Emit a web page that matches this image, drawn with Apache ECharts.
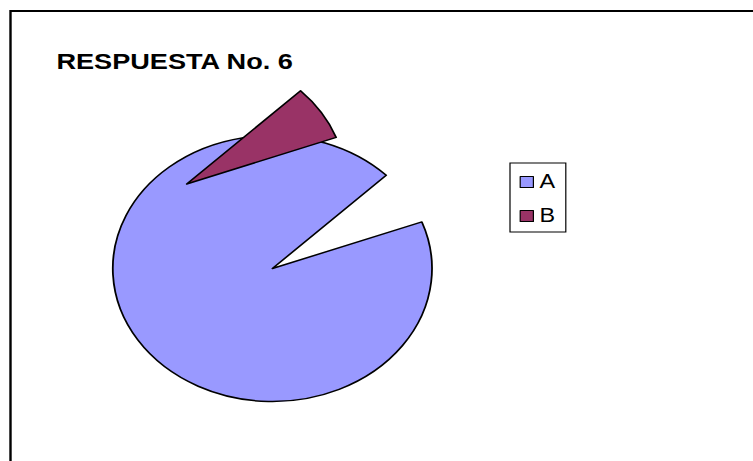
<!DOCTYPE html>
<html>
<head>
<meta charset="utf-8">
<script src="https://cdn.jsdelivr.net/npm/echarts@6/dist/echarts.min.js"></script>
<style>
  html, body { margin: 0; padding: 0; background: #fff; overflow: hidden; }
  /* The chart is laid out on a narrower canvas and widened 1.2x,
     which turns the round pie into a wide ellipse. */
  #chart {
    width: 627.5px;
    height: 461px;
    transform: scaleX(1.2);
    transform-origin: 0 0;
  }
</style>
</head>
<body>
<div id="chart"></div>
<script>
const titleText = 'RESPUESTA No. 6';
const categories = ['A', 'B'];
const values = [28, 2];
const colors = ['#9999FF', '#993366'];

// index of the slice that is pulled away from the pie
const pulledIndex = 1;

const chart = echarts.init(document.getElementById('chart'), null, { renderer: 'svg' });

function pieData(showIndex) {
  return categories.map((name, i) => {
    const visible = showIndex(i);
    return {
      name,
      value: values[i],
      itemStyle: visible
        ? { color: colors[i], borderColor: '#000', borderWidth: 1.5 }
        : { color: 'transparent', borderColor: 'transparent', borderWidth: 0 }
    };
  });
}

const common = {
  type: 'pie',
  radius: 133,
  startAngle: 20.5,
  clockwise: true,
  silent: true,
  label: { show: false },
  labelLine: { show: false },
  emphasis: { disabled: true },
  animation: false
};

chart.setOption({
  backgroundColor: '#fff',
  animation: false,
  title: {
    text: titleText,
    left: 47,
    top: 49,
    padding: 0,
    textStyle: {
      fontFamily: 'Liberation Sans, Arial, sans-serif',
      fontWeight: 'bold',
      fontSize: 22.6,
      color: '#000'
    }
  },
  legend: {
    orient: 'vertical',
    left: 425,
    top: 163,
    padding: [9, 9, 6, 8],
    itemWidth: 11,
    itemHeight: 11,
    itemGap: 14,
    itemTextGap: 9,
    icon: 'rect',
    selectedMode: false,
    borderColor: '#000',
    borderWidth: 1,
    data: categories.map((name, i) => ({
      name,
      itemStyle: { color: colors[i], borderColor: '#000', borderWidth: 1 }
    })),
    textStyle: {
      fontFamily: 'Liberation Sans, Arial, sans-serif',
      fontSize: 19.5,
      lineHeight: 19,
      color: '#000'
    }
  },
  graphic: [{
    type: 'rect',
    shape: { x: 8.75, y: 11, width: 2000, height: 2000 },
    style: { fill: 'none', stroke: '#000', lineWidth: 2 },
    silent: true
  }],
  series: [
    Object.assign({}, common, {
      name: 'main',
      center: [227, 268.5],
      data: pieData(i => i !== pulledIndex)
    }),
    Object.assign({}, common, {
      name: 'pulled',
      center: [155.6, 184],
      data: pieData(i => i === pulledIndex)
    })
  ]
});
</script>
</body>
</html>
